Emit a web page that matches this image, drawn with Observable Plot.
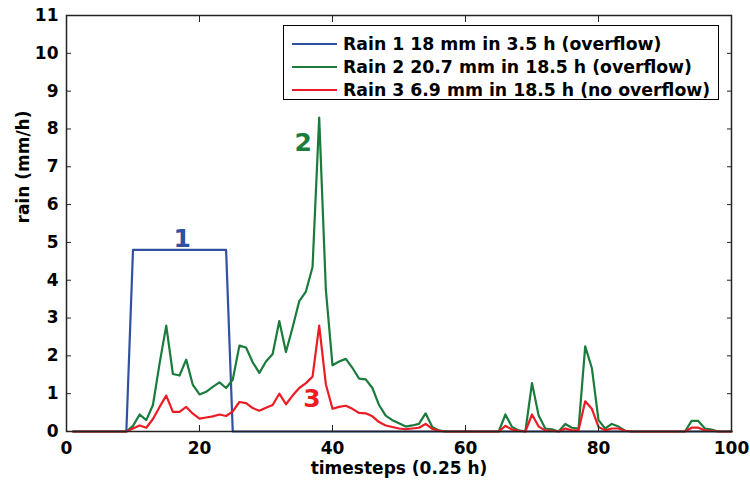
<!DOCTYPE html>
<html><head><meta charset="utf-8">
<script src="https://cdn.jsdelivr.net/npm/d3@7"></script>
<script src="https://cdn.jsdelivr.net/npm/@observablehq/plot@0.6"></script>
<style>
body{margin:0;background:#fff;}
#wrap{position:relative;width:750px;height:480px;font-family:"DejaVu Sans",Verdana,sans-serif;font-weight:bold;}
#legend{position:absolute;left:283px;top:25px;width:436px;height:75px;border:1.5px solid #000;background:#fff;box-sizing:border-box;}
#legend .row{position:absolute;left:8px;height:23px;display:flex;align-items:center;font-size:17.3px;white-space:nowrap;color:#000;}
#legend .sw{display:inline-block;width:45px;height:2px;margin-right:6px;}
</style></head><body><div id="wrap"></div>
<script>
const timesteps = [1,2,3,4,5,6,7,8,9,10,11,12,13,14,15,16,17,18,19,20,21,22,23,24,25,26,27,28,29,30,31,32,33,34,35,36,37,38,39,40,41,42,43,44,45,46,47,48,49,50,51,52,53,54,55,56,57,58,59,60,61,62,63,64,65,66,67,68,69,70,71,72,73,74,75,76,77,78,79,80,81,82,83,84,85,86,87,88,89,90,91,92,93,94,95,96,97,98,99,100];
const rain1 = [0,0,0,0,0,0,0,0,0,4.8,4.8,4.8,4.8,4.8,4.8,4.8,4.8,4.8,4.8,4.8,4.8,4.8,4.8,4.8,0,0,0,0,0,0,0,0,0,0,0,0,0,0,0,0,0,0,0,0,0,0,0,0,0,0,0,0,0,0,0,0,0,0,0,0,0,0,0,0,0,0,0,0,0,0,0,0,0,0,0,0,0,0,0,0,0,0,0,0,0,0,0,0,0,0,0,0,0,0,0,0,0,0,0,0];
const rain2 = [0,0,0,0,0,0,0,0,0,0.15,0.45,0.3,0.7,1.8,2.8,1.52,1.48,1.9,1.23,0.98,1.05,1.18,1.3,1.15,1.37,2.27,2.22,1.83,1.55,1.85,2.05,2.92,2.1,2.75,3.45,3.7,4.35,8.3,3.75,1.75,1.85,1.92,1.68,1.4,1.38,1.15,0.7,0.42,0.3,0.22,0.13,0.16,0.2,0.48,0.12,0.03,0,0,0,0,0,0,0,0,0,0.45,0.12,0.03,0,1.28,0.42,0.08,0.06,0,0.2,0.1,0.08,2.25,1.68,0.3,0.08,0.2,0.13,0.02,0,0,0,0,0,0,0,0,0,0.28,0.28,0.08,0.05,0,0,0];
const rain3 = [0,0,0,0,0,0,0,0,0,0.08,0.16,0.1,0.33,0.65,0.95,0.52,0.52,0.65,0.47,0.34,0.37,0.4,0.45,0.41,0.53,0.78,0.75,0.62,0.55,0.63,0.7,1.0,0.72,0.95,1.15,1.28,1.45,2.8,1.25,0.6,0.65,0.68,0.6,0.49,0.48,0.4,0.25,0.16,0.12,0.08,0.06,0.08,0.1,0.2,0.07,0.02,0,0,0,0,0,0,0,0,0,0.15,0.05,0.02,0,0.45,0.13,0.03,0.02,0,0.08,0.03,0.03,0.8,0.6,0.12,0.03,0.08,0.08,0.02,0,0,0,0,0,0,0,0,0,0.1,0.1,0.03,0.02,0,0,0];
const seriesNames = ["Rain 1 18 mm in 3.5 h (overflow)","Rain 2 20.7 mm in 18.5 h (overflow)","Rain 3 6.9 mm in 18.5 h (no overflow)"];
const seriesColors = ["#2f50a3","#1b7b3c","#ec1c24"];
const xTicks = [0,20,40,60,80,100];
const yTicks = [0,1,2,3,4,5,6,7,8,9,10,11];
const labelText = ["1","2","3"];
const labelT = [17.4,35.6,36.9];
const labelV = [5.1,7.62,0.85];
const xTitle = "timesteps (0.25 h)";
const yTitle = "rain (mm/h)";

const allSeries = [rain1, rain2, rain3];
const lineMarks = allSeries.map((vals, s) =>
  Plot.line(timesteps, {x: d => d, y: (d, i) => vals[i], stroke: seriesColors[s], strokeWidth: 2.2, strokeLinejoin: "round"}));
const ann = labelText.map((t, i) => ({t: labelT[i], v: labelV[i], text: t, c: seriesColors[i]}));

const chart = Plot.plot({
  width: 750, height: 480,
  marginLeft: 66, marginRight: 19, marginTop: 15, marginBottom: 49,
  x: {domain: [0, 100]},
  y: {domain: [0, 11]},
  style: {fontFamily: "'DejaVu Sans', Verdana, sans-serif", fontWeight: "bold", fontSize: "17px", color: "#000", background: "#fff", overflow: "visible"},
  marks: [
    ...lineMarks,
    Plot.text(ann, {x: "t", y: "v", text: "text", fill: d => d.c, fontSize: 25, fontWeight: "bold"}),
    Plot.frame({stroke: "#222", strokeWidth: 1.5}),
    Plot.axisX({ticks: xTicks, tickSize: -6, tickPadding: 16, label: null, stroke: "#222", fill: "#000"}),
    Plot.axisX({anchor: "top", ticks: xTicks, tickSize: -6, tickFormat: () => "", label: null, stroke: "#222"}),
    Plot.axisY({ticks: yTicks, tickSize: -5, tickPadding: 13, label: null, stroke: "#222", fill: "#000"}),
    Plot.axisY({anchor: "right", ticks: yTicks, tickSize: -5, tickFormat: () => "", label: null, stroke: "#222"}),
    Plot.text([xTitle], {frameAnchor: "bottom", dy: 37, lineAnchor: "middle", fontSize: 17, fontWeight: "bold", fill: "#000"}),
    Plot.text([yTitle], {frameAnchor: "left", dx: -43, rotate: -90, lineAnchor: "middle", fontSize: 17, fontWeight: "bold", fill: "#000"})
  ]
});
const wrap = document.getElementById("wrap");
wrap.appendChild(chart);

const leg = document.createElement("div");
leg.id = "legend";
seriesNames.forEach((n, i) => {
  const row = document.createElement("div");
  row.className = "row";
  row.style.top = (6 + i * 23) + "px";
  row.innerHTML = `<span class="sw" style="background:${seriesColors[i]}"></span><span>${n}</span>`;
  leg.appendChild(row);
});
wrap.appendChild(leg);
</script>
</body></html>
